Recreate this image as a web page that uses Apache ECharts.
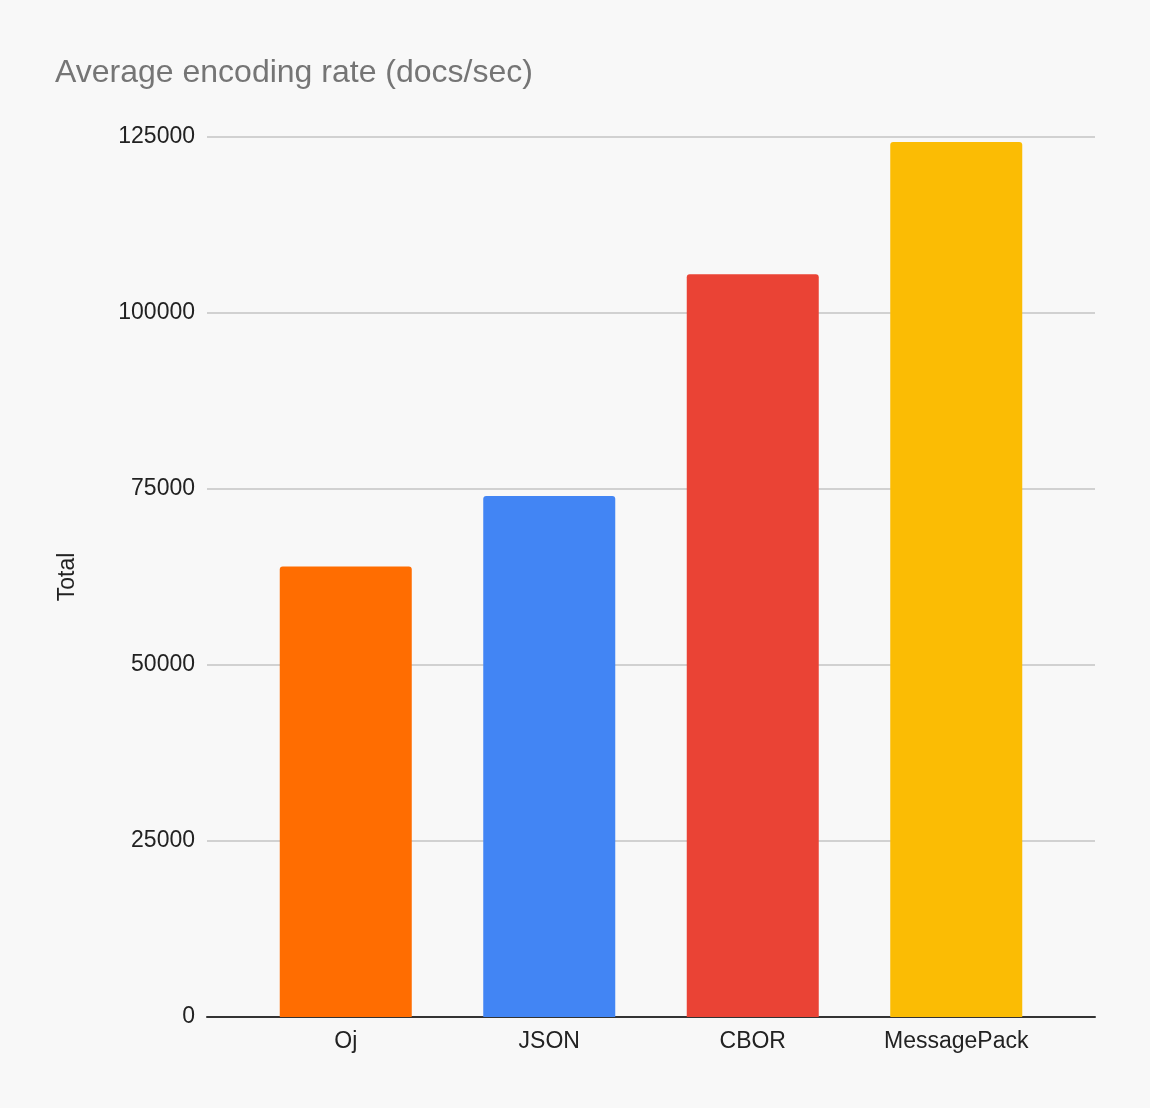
<!DOCTYPE html>
<html>
<head>
<meta charset="utf-8">
<script src="https://cdn.jsdelivr.net/npm/echarts@6/dist/echarts.min.js"></script>
<style>
html,body{margin:0;padding:0;background:#f8f8f8;}
#chart{width:1150px;height:1108px;}
</style>
</head>
<body>
<div id="chart"></div>
<script>
const categories = ['Oj', 'JSON', 'CBOR', 'MessagePack'];
const totals = [64000, 74000, 105500, 124300];
const barColors = ['#ff6d01', '#4285f4', '#ea4335', '#fbbc04'];
const yTicks = [0, 25000, 50000, 75000, 100000, 125000];

const chart = echarts.init(document.getElementById('chart'));
const font = 'Liberation Sans, Arial, sans-serif';
chart.setOption({
  backgroundColor: '#f8f8f8',
  animation: false,
  title: {
    text: 'Average encoding rate (docs/sec)',
    left: 50, top: 52,
    textStyle: { fontFamily: font, fontSize: 32, fontWeight: 'normal', color: '#757575' }
  },
  grid: [
    { left: 207, right: 55, top: 137, bottom: 91 },
    { left: 244, right: 92, top: 137, bottom: 91 }
  ],
  xAxis: [
    { gridIndex: 0, type: 'value', min: 0, max: 1,
      axisLine: { show: true, onZero: false, lineStyle: { color: '#333333', width: 2 } },
      axisTick: { show: false }, axisLabel: { show: false }, splitLine: { show: false } },
    { gridIndex: 1, type: 'category', data: categories,
      axisLine: { show: false }, axisTick: { show: false },
      axisLabel: { fontFamily: font, fontSize: 23, color: '#222222', margin: 13 } }
  ],
  yAxis: [
    { gridIndex: 0, type: 'value', min: yTicks[0], max: yTicks[yTicks.length - 1], interval: 25000,
      name: 'Total', nameLocation: 'middle', nameGap: 128, nameRotate: 90,
      nameTextStyle: { fontFamily: font, fontSize: 23, color: '#222222' },
      axisLine: { show: false }, axisTick: { show: false },
      axisLabel: { fontFamily: font, fontSize: 23, color: '#222222', margin: 12,
        formatter: v => String(v) },
      splitLine: { lineStyle: { color: '#c4c4c4', width: 1.5 } } },
    { gridIndex: 1, type: 'value', min: yTicks[0], max: yTicks[yTicks.length - 1], show: false }
  ],
  series: [{
    type: 'bar', xAxisIndex: 1, yAxisIndex: 1,
    barWidth: 132,
    data: totals.map((v, i) => ({ value: v, itemStyle: { color: barColors[i], borderRadius: [3, 3, 0, 0] } }))
  }]
});
</script>
</body>
</html>
